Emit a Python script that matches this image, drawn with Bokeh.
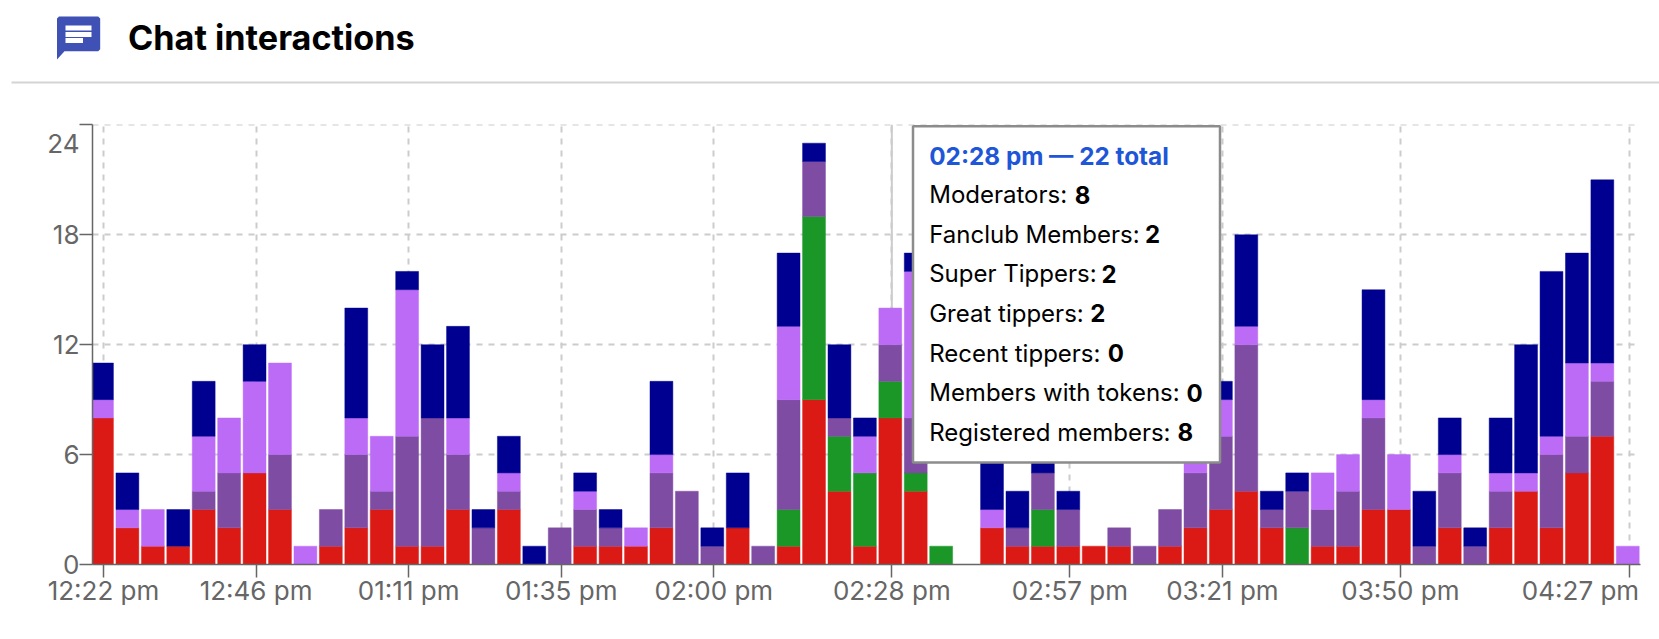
from bokeh.plotting import figure
from bokeh.layouts import column
from bokeh.models import Range1d, FixedTicker, Span, Label
from bokeh.embed import file_html
from bokeh.resources import INLINE

# ---------- data ----------
moderators = [8,2,1,1,3,2,5,3,0,1,2,3,1,1,3,0,3,0,0,1,1,1,2,0,0,2,0,1,9,4,1,8,4,0,0,2,1,1,1,1,1,0,1,2,3,4,2,0,1,1,3,3,0,2,0,2,4,2,5,7,0]
fanclub    = [0,0,0,0,0,0,0,0,0,0,0,0,0,0,0,0,0,0,0,0,0,0,0,0,0,0,0,2,10,3,4,2,1,1,0,0,0,2,0,0,0,0,0,0,0,0,0,2,0,0,0,0,0,0,0,0,0,0,0,0,0]
super_tip  = [0,0,0,0,1,3,0,3,0,2,4,1,6,7,3,2,1,0,2,2,1,0,3,4,1,0,1,6,3,1,0,2,3,0,0,0,1,2,2,0,1,1,2,3,4,8,1,2,2,3,5,0,1,3,1,2,0,4,2,3,0]
great_tip  = [1,1,2,0,3,3,5,5,1,0,2,3,8,0,2,0,1,0,0,1,0,1,1,0,0,0,0,4,0,0,2,2,8,0,0,1,0,0,0,0,0,0,0,1,2,1,0,0,2,2,1,3,0,1,0,1,1,1,4,1,1]
recent_tip = [2,2,0,2,3,0,2,0,0,0,6,0,1,4,5,1,2,1,0,1,1,0,4,0,1,3,0,4,1,4,1,0,1,0,0,3,2,1,1,0,0,0,0,0,1,5,1,1,0,0,6,0,3,2,1,3,7,9,6,10,0]
tick_index  = [0,6,12,18,24,31,38,44,51,60]
tick_labels = ["12:22 pm","12:46 pm","01:11 pm","01:35 pm","02:00 pm","02:28 pm","02:57 pm","03:21 pm","03:50 pm","04:27 pm"]
y_ticks = [0,6,12,18,24]
series = [moderators, fanclub, super_tip, great_tip, recent_tip]
colors = ["#db1a16","#1b9728","#7f4ca3","#bc6bf6","#000090"]
tip_title = "02:28 pm \u2014 22 total"
tip_rows = [("Moderators:","8"),("Fanclub Members:","2"),("Super Tippers:","2"),("Great tippers:","2"),
            ("Recent tippers:","0"),("Members with tokens:","0"),("Registered members:","8")]

F = "Inter"
GRAY = "#666666"

# ---------- header ----------
h = figure(width=1659, height=92, x_range=Range1d(0,1659), y_range=Range1d(92,0),
           output_backend="svg", toolbar_location=None, min_border=0, outline_line_color=None,
           min_border_left=0,min_border_right=0,min_border_top=0,min_border_bottom=0)
h.axis.visible = False
h.grid.visible = False
h.patch([58.5,97.7,99.7,99.7,97.7,64,56.5,56.5,58.5],[16,16,18,48.7,50.7,50.7,59,18,16],color="#3f51b5",line_width=0)
h.quad(left=[65,65,65],right=[91,91,82.5],top=[25,31.5,37.5],bottom=[30,36.5,42.5],color="#ffffff",line_width=0)
h.line([11,1659],[82,82],line_color="#d4d4d4",line_width=2)
h.add_layout(Label(x=127.5,y=37,text="Chat interactions",text_font=F,text_font_style="bold",text_font_size="34.2px",
                   text_color="#000000",text_baseline="middle"))

# ---------- chart ----------
PX = 25.43; PY = 440/24
def dx(px): return (px-103)/PX
def dy(py): return (564-py)/PY
p = figure(width=1659, height=547, x_range=Range1d(dx(92),dx(1640)), y_range=Range1d(0,24.02),
           output_backend="svg", toolbar_location=None, outline_line_color=None,
           min_border_left=92, min_border_right=19, min_border_top=32, min_border_bottom=75)
# the outermost tick labels sit inside the axis ends: labels are major ticks, tick marks are minor ticks
x_label_pos = tick_index[:-1] + [dx(1580)]
y_label_pos = y_ticks[:-1] + [dy(143)]
p.xaxis[0].ticker = FixedTicker(ticks=x_label_pos, minor_ticks=tick_index)
p.yaxis[0].ticker = FixedTicker(ticks=y_label_pos, minor_ticks=y_ticks)
p.xgrid[0].ticker = FixedTicker(ticks=tick_index)
p.ygrid[0].ticker = FixedTicker(ticks=y_ticks)
for ax in (p.xaxis[0],p.yaxis[0]):
    ax.axis_line_color = GRAY; ax.axis_line_width = 1.5
    ax.major_tick_line_color = None
    ax.minor_tick_line_color = GRAY; ax.minor_tick_line_width = 1.5
    ax.minor_tick_out = 13; ax.minor_tick_in = 0
    ax.major_tick_out = 13; ax.major_tick_in = 0
    ax.major_label_text_font = F; ax.major_label_text_font_size = "26px"; ax.major_label_text_color = GRAY
p.xaxis[0].major_label_overrides = {k:l for k,l in zip(x_label_pos,tick_labels)}
p.xaxis[0].major_label_standoff = -3
p.yaxis[0].major_label_overrides = {k:str(v) for k,v in zip(y_label_pos,y_ticks)}
p.yaxis[0].major_label_standoff = 0
p.grid.grid_line_color = "#cccccc"; p.grid.grid_line_dash = "6 6"; p.grid.grid_line_width = 2
p.add_layout(Span(location=31,dimension="height",line_color="#cccccc",line_width=2,level="underlay"))

bottoms = [0]*len(moderators)
for vals,c in zip(series,colors):
    keep = [i for i,v in enumerate(vals) if v>0]
    p.vbar(x=[i-0.06 for i in keep],width=0.9,bottom=[bottoms[i] for i in keep],top=[bottoms[i]+vals[i] for i in keep],
           fill_color=c,line_color=c,line_alpha=0.45,line_width=1)
    bottoms = [b+v for b,v in zip(bottoms,vals)]

# tooltip
p.quad(left=[dx(912.5)],right=[dx(1219.5)],top=[dy(125.5)],bottom=[dy(462)],fill_color="#ffffff",line_color="#8c8c8c",line_width=2.5,level="overlay")
def t(x,y,s,size="24px",**k):
    p.add_layout(Label(x=dx(x),y=dy(y),text=s,text_font=F,text_baseline="middle",text_font_size=size,level="overlay",**k))
t(928.7,154.7,tip_title,size="24.3px",text_color="#1e56d8",text_font_style="bold")
row_y = [193.7,233.7,273,312.7,352.7,392,431.7]
bold_x = [1074.3,1144.4,1100.9,1089.8,1107.2,1185.9,1176.9]
for (a,b),y,x in zip(tip_rows,row_y,bold_x):
    t(928.7,y,a,text_color="#000000")
    t(x,y,b,text_color="#000000",text_font_style="bold")

open("out.html","w").write(file_html(column(column(h),column(p),spacing=0),INLINE))
